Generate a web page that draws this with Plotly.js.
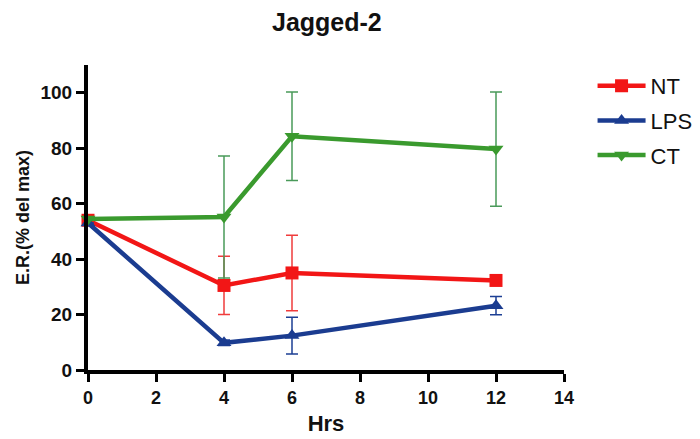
<!DOCTYPE html>
<html>
<head>
<meta charset="utf-8">
<script src="https://cdn.plot.ly/plotly-3.0.1.min.js"></script>
<style>html,body{margin:0;padding:0;background:#fff}#chart{width:700px;height:439px}</style>
</head>
<body>
<div id="chart"></div>
<script>
const hours = [0, 4, 6, 12];
const ntValues = [54, 30.5, 35, 32.3];
const ntErrors = [0, 10.5, 13.6, 1.5];
const lpsValues = [53, 9.8, 12.4, 23.2];
const lpsErrors = [0, 1, 6.6, 3.3];
const ctValues = [54.5, 55.2, 84.3, 79.7];
const ctErrors = [0, 22, 16, 20.6];
const seriesNames = ["NT", "LPS", "CT"];
const xTicks = [0, 2, 4, 6, 8, 10, 12, 14];
const yTicks = [0, 20, 40, 60, 80, 100];

const font = "Liberation Sans, Arial, sans-serif";

function mk(name, y, err, color, errColor, symbol, size) {
  return {
    x: hours, y: y, name: name, legendgroup: name, type: "scatter", mode: "lines+markers",
    line: {color: color, width: 4.5},
    marker: {color: color, symbol: symbol, size: size},
    error_y: {type: "data", array: err, visible: true, color: errColor, thickness: 1.5, width: 6},
    cliponaxis: false
  };
}

const traces = [
  mk(seriesNames[0], ntValues, ntErrors, "#f21616", "#f03c3c", "square", 13),
  mk(seriesNames[1], lpsValues, lpsErrors, "#1b3c90", "#1c3f94", "triangle-up", 13),
  mk(seriesNames[2], ctValues, ctErrors, "#3a9a2e", "#4a9a5a", "triangle-down", 13)
];

const layout = {
  width: 700, height: 439,
  margin: {l: 88, r: 136, t: 65, b: 69, autoexpand: false},
  paper_bgcolor: "#fff", plot_bgcolor: "#fff",
  font: {family: font, color: "#000"},
  title: {text: "<b>Jagged-2</b>", font: {size: 25, family: font, color: "#111"}, x: 0.467, xanchor: "center", y: 0.95, yanchor: "middle"},
  xaxis: {
    range: [0, 14], tickvals: xTicks, ticktext: xTicks.map(v => "<b>" + v + "</b>"),
    showgrid: false, zeroline: false, showline: true, linecolor: "#000", linewidth: 4,
    ticks: "outside", ticklen: 8, tickwidth: 3, tickcolor: "#000",
    tickfont: {size: 18, family: font, color: "#111"},
    title: {text: "<b>Hrs</b>", font: {size: 22, family: font, color: "#111"}, standoff: 10}
  },
  yaxis: {
    range: [0, 110], tickvals: yTicks, ticktext: yTicks.map(v => "<b>" + v + "</b>"),
    showgrid: false, zeroline: false, showline: true, linecolor: "#000", linewidth: 4,
    ticks: "outside", ticklen: 8, tickwidth: 3, tickcolor: "#000",
    tickfont: {size: 19, family: font, color: "#111"},
    title: {text: "<b>E.R.(% del max)</b>", font: {size: 18, family: font, color: "#111"}, standoff: 7}
  },
  legend: {
    x: 1.06, y: 1.0, xanchor: "left", yanchor: "top",
    font: {size: 22, family: font, color: "#111"},
    bgcolor: "rgba(0,0,0,0)", tracegroupgap: 3, itemwidth: 48
  },
  showlegend: true
};
Plotly.newPlot("chart", traces, layout, {displayModeBar: false, staticPlot: true});
</script>
</body>
</html>
